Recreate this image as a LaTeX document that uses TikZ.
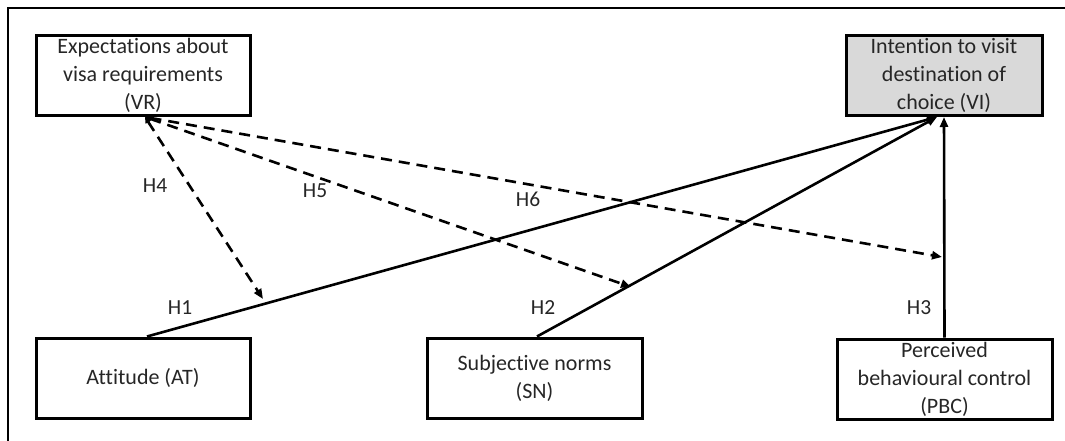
\documentclass[tikz,border=0pt]{standalone}
\usepackage{fontspec}
\setmainfont{Carlito}[RawFeature={-liga;-clig;-calt;-dlig}]
\usetikzlibrary{arrows.meta}
\definecolor{txt}{gray}{0.15}
\definecolor{keyfill}{gray}{0.85}
\tikzset{
  construct/.style={draw=black, line width=3pt, text=txt, align=center,
    inner sep=0pt, minimum height=80pt,
    font=\fontsize{22}{28}\selectfont},
  hyp/.style={text=txt, font=\fontsize{21.5}{26}\selectfont, inner sep=0pt},
  direct/.style={line width=2.6pt, -{Triangle[length=10pt,width=8pt]}},
  moderate/.style={line width=2.6pt, dash pattern=on 11pt off 7pt,
    {Triangle[length=6pt,width=6pt]}-{Triangle[length=10pt,width=8pt]}},
}
\begin{document}
\begin{tikzpicture}[x=1pt,y=-1pt]
\useasboundingbox (0,0) rectangle (1065,441);
% outer frame (top and left edges)
\draw[line width=2pt] (8,441) -- (8,8) -- (1065,8);

% constructs
\node[construct, minimum width=214pt] (VR) at (143,75.5)
  {Expectations about\\visa requirements\\(VR)};
\node[construct, minimum width=196pt, fill=keyfill] (VI) at (944,75.5)
  {Intention to visit\\destination of\\choice (VI)};
\node[construct, minimum width=214pt] (AT) at (143,378) {Attitude (AT)};
\node[construct, minimum width=215pt] (SN) at (534.5,378)
  {Subjective norms\\(SN)};
\node[construct, minimum width=215pt] (PBC) at (944.5,379)
  {Perceived\\behavioural control\\(PBC)};

% direct effects
\draw[direct] ([xshift=4pt]AT.north) -- ([xshift=-7pt]VI.south);
\draw[direct] ([xshift=2.5pt]SN.north) -- ([xshift=-7pt]VI.south);
\draw[direct] (PBC.north) -- (VI.south);

% moderating paths end on the direct effects
\coordinate (m4) at (263,299);
\coordinate (m5) at (631,287);
\coordinate (m6) at (942,257);
\draw[moderate] ([xshift=2pt]VR.south) -- (m4);
\draw[moderate] ([xshift=2pt]VR.south) -- (m5);
\draw[moderate] ([xshift=2pt]VR.south) -- (m6);

% hypothesis labels
\node[hyp] (h1) at (180,308) {H1};
\node[hyp] (h2) at (543,308) {H2};
\node[hyp] (h3) at (919,308) {H3};
\node[hyp] (h4) at (155,186) {H4};
\node[hyp] (h5) at (315,191) {H5};
\node[hyp] (h6) at (528,199) {H6};
\end{tikzpicture}
\end{document}
